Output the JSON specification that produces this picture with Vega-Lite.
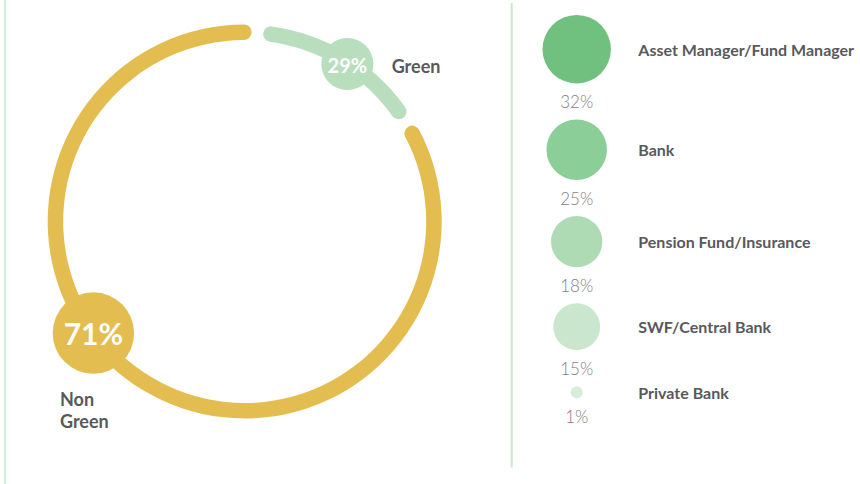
{
  "$schema": "https://vega.github.io/schema/vega-lite/v6.json",
  "width": 860,
  "height": 484,
  "autosize": {"type": "none"},
  "padding": 0,
  "background": "white",
  "config": {"view": {"stroke": null}, "font": "Lato", "text": {"font": "Lato"}},
  "datasets": {
    "donut": [
      {"group": "Green", "share": 0.29, "arcStart": 5.6, "arcEnd": 56.8, "dotAngle": 33.1},
      {"group": "Non Green", "share": 0.71, "arcStart": 59.9, "arcEnd": 362.1, "dotAngle": 233.6}
    ],
    "investors": [
      {"investor": "Asset Manager/Fund Manager", "share": 0.32},
      {"investor": "Bank", "share": 0.25},
      {"investor": "Pension Fund/Insurance", "share": 0.18},
      {"investor": "SWF/Central Bank", "share": 0.15},
      {"investor": "Private Bank", "share": 0.01}
    ]
  },
  "resolve": {"scale": {"size": "independent", "color": "independent"}},
  "layer": [
    {
      "data": {"values": [{}]},
      "mark": {"type": "rule", "color": "#C9E7CB", "strokeWidth": 1.5},
      "encoding": {
        "x": {"datum": 5, "type": "quantitative", "scale": {"domain": [0, 860], "nice": false, "zero": false}, "axis": null},
        "y": {"datum": 0, "type": "quantitative", "scale": {"domain": [0, 484], "nice": false, "zero": false, "reverse": true}, "axis": null},
        "y2": {"datum": 484}
      }
    },
    {
      "data": {"values": [{}]},
      "mark": {"type": "rule", "color": "#C9E7CB", "strokeWidth": 2},
      "encoding": {
        "x": {"datum": 511.7, "type": "quantitative", "scale": {"domain": [0, 860], "nice": false, "zero": false}, "axis": null},
        "y": {"datum": 3, "type": "quantitative", "scale": {"domain": [0, 484], "nice": false, "zero": false, "reverse": true}, "axis": null},
        "y2": {"datum": 467.5}
      }
    },
    {
      "data": {"name": "donut"},
      "mark": {"type": "arc", "radius": 197, "radius2": 181.5, "cornerRadius": 7.75},
      "encoding": {
        "x": {"datum": 244.7, "type": "quantitative", "scale": {"domain": [0, 860], "nice": false, "zero": false}, "axis": null},
        "y": {"datum": 221.5, "type": "quantitative", "scale": {"domain": [0, 484], "nice": false, "zero": false, "reverse": true}, "axis": null},
        "theta": {"field": "arcStart", "type": "quantitative", "scale": {"domain": [0, 360], "range": [0, 6.283185307179586]}},
        "theta2": {"field": "arcEnd"},
        "color": {"field": "group", "type": "nominal", "scale": {"domain": ["Green", "Non Green"], "range": ["#B8DEBE", "#E3BD50"]}, "legend": null}
      }
    },
    {
      "data": {"name": "donut"},
      "transform": [
        {"calculate": "244.7 + 188 * sin(datum.dotAngle * PI / 180)", "as": "dotX"},
        {"calculate": "221.5 - 188 * cos(datum.dotAngle * PI / 180)", "as": "dotY"}
      ],
      "resolve": {"scale": {"size": "independent", "color": "independent"}},
      "layer": [
        {
          "mark": {"type": "circle", "opacity": 1},
          "encoding": {
            "x": {"field": "dotX", "type": "quantitative", "scale": {"domain": [0, 860], "nice": false, "zero": false}, "axis": null},
            "y": {"field": "dotY", "type": "quantitative", "scale": {"domain": [0, 484], "nice": false, "zero": false, "reverse": true}, "axis": null},
            "size": {"field": "share", "type": "quantitative", "scale": {"domain": [0, 0.71], "range": [0, 6626], "nice": false, "zero": false}, "legend": null},
            "color": {"field": "group", "type": "nominal", "scale": {"domain": ["Green", "Non Green"], "range": ["#B8DEBE", "#E3BD50"]}, "legend": null}
          }
        },
        {
          "mark": {"type": "text", "align": "center", "baseline": "middle", "fontWeight": "bold", "color": "white", "dy": 2.5},
          "encoding": {
            "x": {"field": "dotX", "type": "quantitative", "scale": {"domain": [0, 860], "nice": false, "zero": false}, "axis": null},
            "y": {"field": "dotY", "type": "quantitative", "scale": {"domain": [0, 484], "nice": false, "zero": false, "reverse": true}, "axis": null},
            "text": {"field": "share", "type": "quantitative", "format": ".0%"},
            "size": {"field": "share", "type": "quantitative", "scale": {"domain": [0.29, 0.71], "range": [20, 30], "nice": false, "zero": false}, "legend": null}
          }
        },
        {
          "transform": [{"filter": "datum.group === 'Green'"}],
          "mark": {"type": "text", "align": "left", "baseline": "middle", "fontWeight": "bold", "fontSize": 18, "color": "#58595B", "dx": 44.3, "dy": 3.5},
          "encoding": {
            "x": {"field": "dotX", "type": "quantitative", "scale": {"domain": [0, 860], "nice": false, "zero": false}, "axis": null},
            "y": {"field": "dotY", "type": "quantitative", "scale": {"domain": [0, 484], "nice": false, "zero": false, "reverse": true}, "axis": null},
            "text": {"field": "group", "type": "nominal"}
          }
        },
        {
          "transform": [{"filter": "datum.group === 'Non Green'"}],
          "mark": {"type": "text", "align": "left", "baseline": "top", "fontWeight": "bold", "fontSize": 18, "color": "#58595B", "dx": -33.4, "dy": 59.4, "lineBreak": " ", "lineHeight": 22},
          "encoding": {
            "x": {"field": "dotX", "type": "quantitative", "scale": {"domain": [0, 860], "nice": false, "zero": false}, "axis": null},
            "y": {"field": "dotY", "type": "quantitative", "scale": {"domain": [0, 484], "nice": false, "zero": false, "reverse": true}, "axis": null},
            "text": {"field": "group", "type": "nominal"}
          }
        }
      ]
    },
    {
      "data": {"name": "investors"},
      "transform": [
        {"calculate": "60.5 * sqrt(datum.share)", "as": "r"},
        {"calculate": "2 * datum.r + 36", "as": "step"},
        {"window": [{"op": "sum", "field": "step", "as": "cum"}], "sort": [{"field": "share", "order": "descending"}], "frame": [null, 0]},
        {"calculate": "datum.cum - 21 - datum.r", "as": "cy"},
        {"calculate": "datum.cum - 2", "as": "pctY"}
      ],
      "resolve": {"scale": {"size": "independent", "color": "independent"}},
      "layer": [
        {
          "mark": {"type": "circle", "opacity": 1},
          "encoding": {
            "x": {"datum": 576.7, "type": "quantitative", "scale": {"domain": [0, 860], "nice": false, "zero": false}, "axis": null},
            "y": {"field": "cy", "type": "quantitative", "scale": {"domain": [0, 484], "nice": false, "zero": false, "reverse": true}, "axis": null},
            "size": {"field": "share", "type": "quantitative", "scale": {"domain": [0, 0.32], "range": [0, 4684], "nice": false, "zero": false}, "legend": null},
            "color": {"field": "investor", "type": "nominal", "scale": {"domain": ["Asset Manager/Fund Manager", "Bank", "Pension Fund/Insurance", "SWF/Central Bank", "Private Bank"], "range": ["#70C17F", "#8CCE97", "#AEDAB4", "#CAE7CD", "#D6EDD8"]}, "legend": null}
          }
        },
        {
          "mark": {"type": "text", "align": "center", "baseline": "middle", "fontWeight": 300, "fontSize": 17, "color": "#7F7F7F", "dy": 1},
          "encoding": {
            "x": {"datum": 576.7, "type": "quantitative", "scale": {"domain": [0, 860], "nice": false, "zero": false}, "axis": null},
            "y": {"field": "pctY", "type": "quantitative", "scale": {"domain": [0, 484], "nice": false, "zero": false, "reverse": true}, "axis": null},
            "text": {"field": "share", "type": "quantitative", "format": ".0%"}
          }
        },
        {
          "mark": {"type": "text", "align": "left", "baseline": "middle", "fontWeight": "bold", "fontSize": 16, "color": "#58595B", "dy": 1.5},
          "encoding": {
            "x": {"datum": 638.3, "type": "quantitative", "scale": {"domain": [0, 860], "nice": false, "zero": false}, "axis": null},
            "y": {"field": "cy", "type": "quantitative", "scale": {"domain": [0, 484], "nice": false, "zero": false, "reverse": true}, "axis": null},
            "text": {"field": "investor", "type": "nominal"}
          }
        }
      ]
    }
  ]
}
